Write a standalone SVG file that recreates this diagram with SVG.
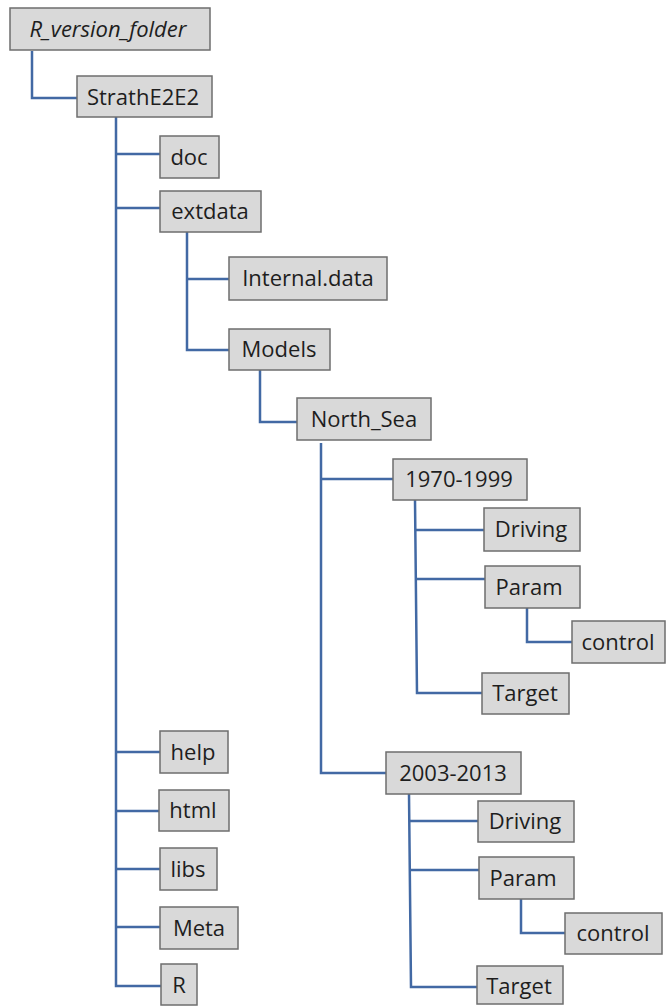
<svg xmlns="http://www.w3.org/2000/svg" width="666" height="1006" viewBox="0 0 666 1006">
<style>
.n rect{fill:#d9d9d9;stroke:#6e6e6e;stroke-width:1.5}
.n text{font-family:"Open Sans","Noto Sans",sans-serif;font-size:22px;fill:#1e1e1e;text-anchor:middle}
.c path{fill:none;stroke:#4269a4;stroke-width:2.5}
</style>
<rect width="666" height="1006" fill="#fff"/>
<g class="c" id="connectors">
<path d="M32,51 V98 H77"/>
<path d="M116,117 V986 H161"/>
<path d="M116,154 H160"/>
<path d="M116,208 H160"/>
<path d="M116,752 H160"/>
<path d="M116,811 H159"/>
<path d="M116,869 H160"/>
<path d="M116,927 H160"/>
<path d="M187,232 V350 H229"/>
<path d="M187,279 H229"/>
<path d="M260,370 V422 H297"/>
<path d="M321,443 V773 H386"/>
<path d="M321,479 H393"/>
<path d="M415,500 L417,693 H482"/>
<path d="M416,530 H484"/>
<path d="M416,579 H485"/>
<path d="M527,608 V642 H572"/>
<path d="M409,794 L411,987 H477"/>
<path d="M410,821 H478"/>
<path d="M410,870 H479"/>
<path d="M521,899 V933 H565"/>
</g>
<g class="n" id="R_version_folder"><rect x="10" y="8" width="200" height="42"/><text x="108" y="37" font-style="italic">R_version_folder</text></g>
<g class="n" id="StrathE2E2"><rect x="77" y="76" width="135" height="41"/><text x="143" y="105">StrathE2E2</text></g>
<g class="n" id="doc"><rect x="160" y="136" width="59" height="42"/><text x="189" y="165">doc</text></g>
<g class="n" id="extdata"><rect x="160" y="191" width="101" height="41"/><text x="210" y="219">extdata</text></g>
<g class="n" id="Internal.data"><rect x="229" y="257" width="158" height="43"/><text x="308" y="286">Internal.data</text></g>
<g class="n" id="Models"><rect x="229" y="329" width="101" height="41"/><text x="279" y="357">Models</text></g>
<g class="n" id="North_Sea"><rect x="297" y="398" width="134" height="42"/><text x="364" y="427">North_Sea</text></g>
<g class="n" id="y1970-1999"><rect x="393" y="459" width="134" height="41"/><text x="459" y="487">1970-1999</text></g>
<g class="n" id="Driving1"><rect x="484" y="508" width="96" height="43"/><text x="531" y="537">Driving</text></g>
<g class="n" id="Param1"><rect x="485" y="566" width="95" height="42"/><text x="529" y="595">Param</text></g>
<g class="n" id="control1"><rect x="572" y="621" width="93" height="42"/><text x="618" y="650">control</text></g>
<g class="n" id="Target1"><rect x="482" y="673" width="87" height="41"/><text x="525" y="701">Target</text></g>
<g class="n" id="help"><rect x="160" y="731" width="68" height="42"/><text x="193" y="760">help</text></g>
<g class="n" id="html"><rect x="159" y="790" width="70" height="41"/><text x="193" y="818">html</text></g>
<g class="n" id="libs"><rect x="160" y="848" width="57" height="42"/><text x="188" y="877">libs</text></g>
<g class="n" id="Meta"><rect x="160" y="907" width="78" height="42"/><text x="199" y="936">Meta</text></g>
<g class="n" id="R"><rect x="161" y="964" width="36" height="41"/><text x="179" y="993">R</text></g>
<g class="n" id="y2003-2013"><rect x="386" y="752" width="135" height="42"/><text x="453" y="781">2003-2013</text></g>
<g class="n" id="Driving2"><rect x="478" y="801" width="96" height="41"/><text x="525" y="829">Driving</text></g>
<g class="n" id="Param2"><rect x="479" y="857" width="95" height="42"/><text x="523" y="886">Param</text></g>
<g class="n" id="control2"><rect x="565" y="913" width="97" height="41"/><text x="613" y="941">control</text></g>
<g class="n" id="Target2"><rect x="477" y="966" width="86" height="38"/><text x="519" y="994">Target</text></g>
</svg>
